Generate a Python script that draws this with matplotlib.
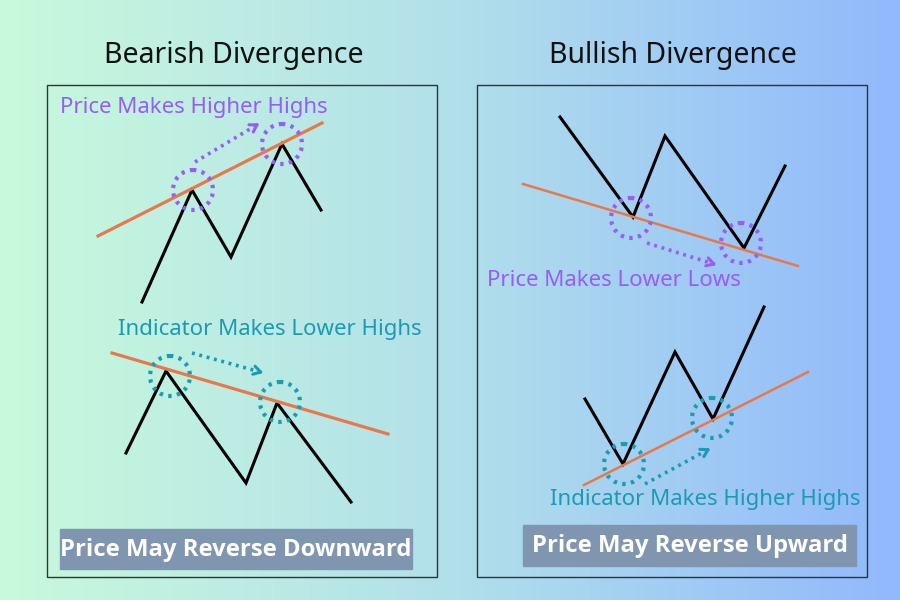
import numpy as np
import matplotlib.pyplot as plt
from matplotlib.patches import Rectangle, Circle

plt.rcParams['font.family'] = ['Noto Sans', 'DejaVu Sans']

### Diagram data (pixel space, y grows downward)
panel_titles = ['Bearish Divergence', 'Bullish Divergence']
title_x = [234, 673]
panel_boxes = [(47, 85, 390, 492), (477, 85, 390, 492)]

# zigzag lines
bear_price_x = [142, 192, 231, 282, 321]
bear_price_y = [302, 190, 257, 144, 210]
bear_ind_x = [126, 166, 246, 277, 351]
bear_ind_y = [453, 371, 483, 403, 502]
bull_price_x = [560, 633, 665, 744, 785]
bull_price_y = [117, 217, 136, 248, 166]
bull_ind_x = [585, 623, 675, 713, 764]
bull_ind_y = [399, 464, 352, 419, 307]

# trend lines (orange)
bear_price_trend = [(98, 236), (322, 123)]
bear_ind_trend = [(112, 353), (388, 434)]
bull_price_trend = [(523, 184), (798, 266)]
bull_ind_trend = [(584, 485), (808, 372)]

# dotted circles around extremes
bear_price_circles = [(193, 190), (282, 144)]
bear_ind_circles = [(170, 376), (280, 402)]
bull_price_circles = [(631, 218), (741, 243)]
bull_ind_circles = [(624, 464), (712, 418)]

# dotted arrows
bear_price_arrow = [(195, 162), (260, 123)]
bear_ind_arrow = [(192, 353), (264, 373)]
bull_price_arrow = [(647, 243), (717, 265)]
bull_ind_arrow = [(645, 484), (711, 448)]

labels = ['Price Makes Higher Highs', 'Indicator Makes Lower Highs',
          'Price Makes Lower Lows', 'Indicator Makes Higher Highs']
label_pos = [(60, 108), (118, 330), (487, 280), (550, 499)]
label_colors = ['#9a5cf6', '#1a9bb2', '#9a5cf6', '#1a9bb2']

banners = ['Price May Reverse Downward', 'Price May Reverse Upward']
banner_boxes = [(60, 529, 352, 40), (523, 525, 333, 41)]

purple = '#9a5cf6'
teal = '#1a9bb2'
orange = '#e8784a'

fig = plt.figure(figsize=(9, 6), dpi=100)
ax = fig.add_axes([0, 0, 1, 1])
ax.set_xlim(0, 900)
ax.set_ylim(600, 0)
ax.axis('off')

#### gradient background
left = np.array([200, 250, 220]) / 255
mid = np.array([178, 224, 234]) / 255
right = np.array([145, 185, 252]) / 255
t = np.linspace(0, 1, 900)
grad = np.where(t[:, None] < 0.5,
                left + (mid - left) * (t[:, None] / 0.5),
                mid + (right - mid) * ((t[:, None] - 0.5) / 0.5))
ax.imshow(grad[None, :, :], extent=[0, 900, 600, 0], aspect='auto', zorder=0)

#### panels and titles
for title, tx, (bx, by, bw, bh) in zip(panel_titles, title_x, panel_boxes):
    ax.add_patch(Rectangle((bx, by), bw, bh, fill=False, ec='#333333', lw=1, zorder=1))
    ax.text(tx, 55, title, ha='center', va='center', fontsize=20.5, color='#111111')


def draw_group(xs, ys, trend, circles, arrow, color, trend_lw):
    ax.plot(xs, ys, color='black', lw=2.2, zorder=3, solid_joinstyle='miter')
    (x0, y0), (x1, y1) = trend
    ax.plot([x0, x1], [y0, y1], color=orange, lw=trend_lw, zorder=4)
    for cx, cy in circles:
        ax.add_patch(Circle((cx, cy), 20, fill=False, ec=color, lw=3,
                            ls=(0, (0.8, 1.3)), zorder=5))
    (ax0, ay0), (ax1, ay1) = arrow
    ax.plot([ax0, ax1], [ay0, ay1], color=color, lw=2.6, ls=(0, (0.8, 1.3)), zorder=5)
    dx, dy = ax1 - ax0, ay1 - ay0
    ax.annotate('', xy=(ax1 + dx * 0.03, ay1 + dy * 0.03), xytext=(ax1 - dx * 0.1, ay1 - dy * 0.1),
                arrowprops=dict(arrowstyle='->,head_length=0.5,head_width=0.3',
                                color=color, lw=2.2), zorder=5)


draw_group(bear_price_x, bear_price_y, bear_price_trend, bear_price_circles, bear_price_arrow, purple, 2.3)
draw_group(bear_ind_x, bear_ind_y, bear_ind_trend, bear_ind_circles, bear_ind_arrow, teal, 2.3)
draw_group(bull_price_x, bull_price_y, bull_price_trend, bull_price_circles, bull_price_arrow, purple, 1.8)
draw_group(bull_ind_x, bull_ind_y, bull_ind_trend, bull_ind_circles, bull_ind_arrow, teal, 1.8)

#### labels
for text, (lx, ly), c in zip(labels, label_pos, label_colors):
    ax.text(lx, ly, text, ha='left', va='center', fontsize=16, color=c, zorder=6)

#### banners
for text, (rx, ry, rw, rh) in zip(banners, banner_boxes):
    ax.add_patch(Rectangle((rx, ry), rw, rh, color='#8096b0', zorder=6))
    ax.text(rx + rw / 2, ry + rh / 2 + 1, text, ha='center', va='center', fontsize=17.2,
            fontweight='bold', family=['Open Sans', 'DejaVu Sans'], color='white', zorder=7)

fig.savefig('out.png', dpi=100)
